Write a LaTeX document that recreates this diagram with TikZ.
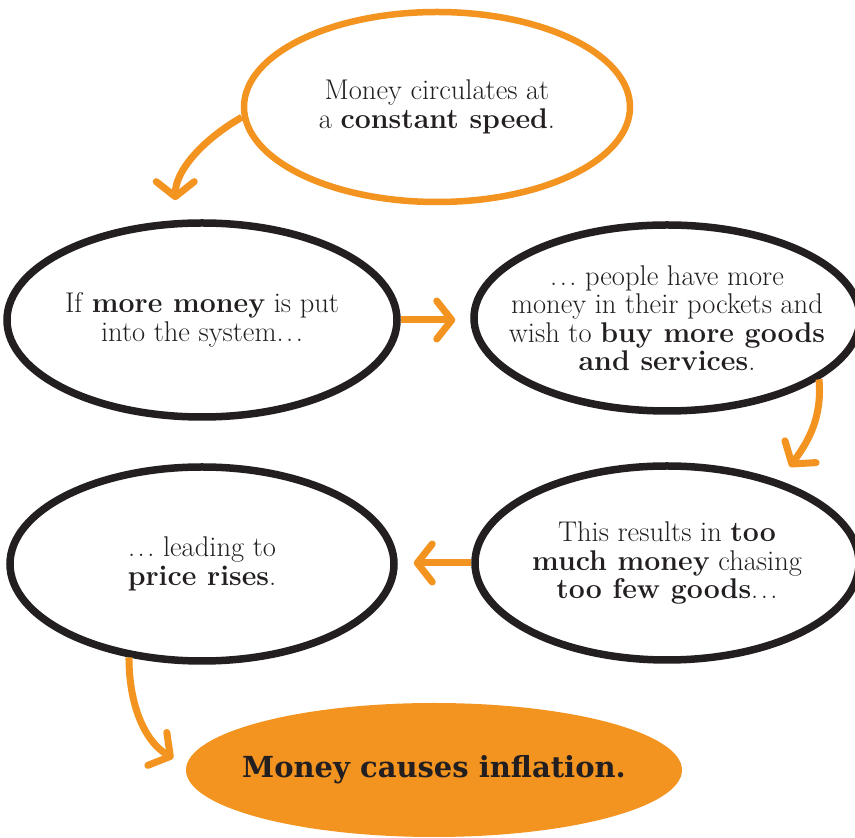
\documentclass[tikz,border=0pt]{standalone}
\usepackage{fontspec}
\newfontfamily\titlefont{DejaVu Serif}
\usetikzlibrary{shapes.geometric,arrows.meta}
\definecolor{orng}{RGB}{243,148,33}
\definecolor{ink}{RGB}{35,31,32}
\newcommand{\ellip}{.\kern2.5pt.\kern2.5pt.}
\begin{document}
\begin{tikzpicture}[x=1pt,y=1pt,
  txt/.style={font=\fontsize{28.5}{28.5}\selectfont, text=ink, align=center, inner sep=0pt},
  bubble/.style={ellipse, draw=ink, line width=7.5pt, inner sep=0pt},
  obubble/.style={ellipse, draw=orng, line width=6.5pt, inner sep=0pt},
  goal/.style={ellipse, fill=orng, inner sep=0pt, text=ink,
     font=\titlefont\bfseries\fontsize{29}{32}\selectfont},
  arr/.style={draw=orng, line width=7pt,
     -{Straight Barb[length=15pt,width=38pt,round]}}
]
\fill[white] (0,0) rectangle (855,838);
\useasboundingbox (0,0) rectangle (855,838);
\clip (0,0) rectangle (855,838);

\node[obubble, minimum width=386pt, minimum height=190pt,
  label={[txt]center:Money circulates at\\ a \textbf{constant speed}.}] (T) at (437,731) {};
\node[bubble, minimum width=390pt, minimum height=194pt,
  label={[txt]center:If \textbf{more money} is put\\ into the system\ellip}] (L1) at (202,518) {};
\node[bubble, minimum width=386pt, minimum height=186pt,
  label={[txt]center:\ellip\ people have more\\ money in their pockets and\\ wish to \textbf{buy more goods}\\ \textbf{and services}.}] (R1) at (667,520) {};
\node[bubble, minimum width=384pt, minimum height=194pt,
  label={[txt]center:This results in \textbf{too}\\ \textbf{much money} chasing\\ \textbf{too few goods}\ellip}] (R2) at (667,275) {};
\node[bubble, minimum width=384pt, minimum height=194pt,
  label={[txt]center:\ellip\ leading to\\ \textbf{price rises}.}] (L2) at (202,274) {};
\node[goal, minimum width=496pt, minimum height=134pt] (F) at (434,68)
  {\makebox[0pt]{Money causes inflation.}};

\draw[arr, shorten >=20pt] (T.183) to[out=210,in=90] (L1.105);
\draw[arr, shorten >=15pt] (L1.east) -- (L1.east -| R1.west);
\draw[arr, shorten >=17pt] (R1.-22) to[out=-85,in=55] (R2.36);
\draw[arr, shorten >=16pt] (R2.west) -- (R2.west -| L2.east);
\draw[arr, shorten >=15pt] (L2.232) to[out=-90,in=150] (F.179);
\end{tikzpicture}
\end{document}
